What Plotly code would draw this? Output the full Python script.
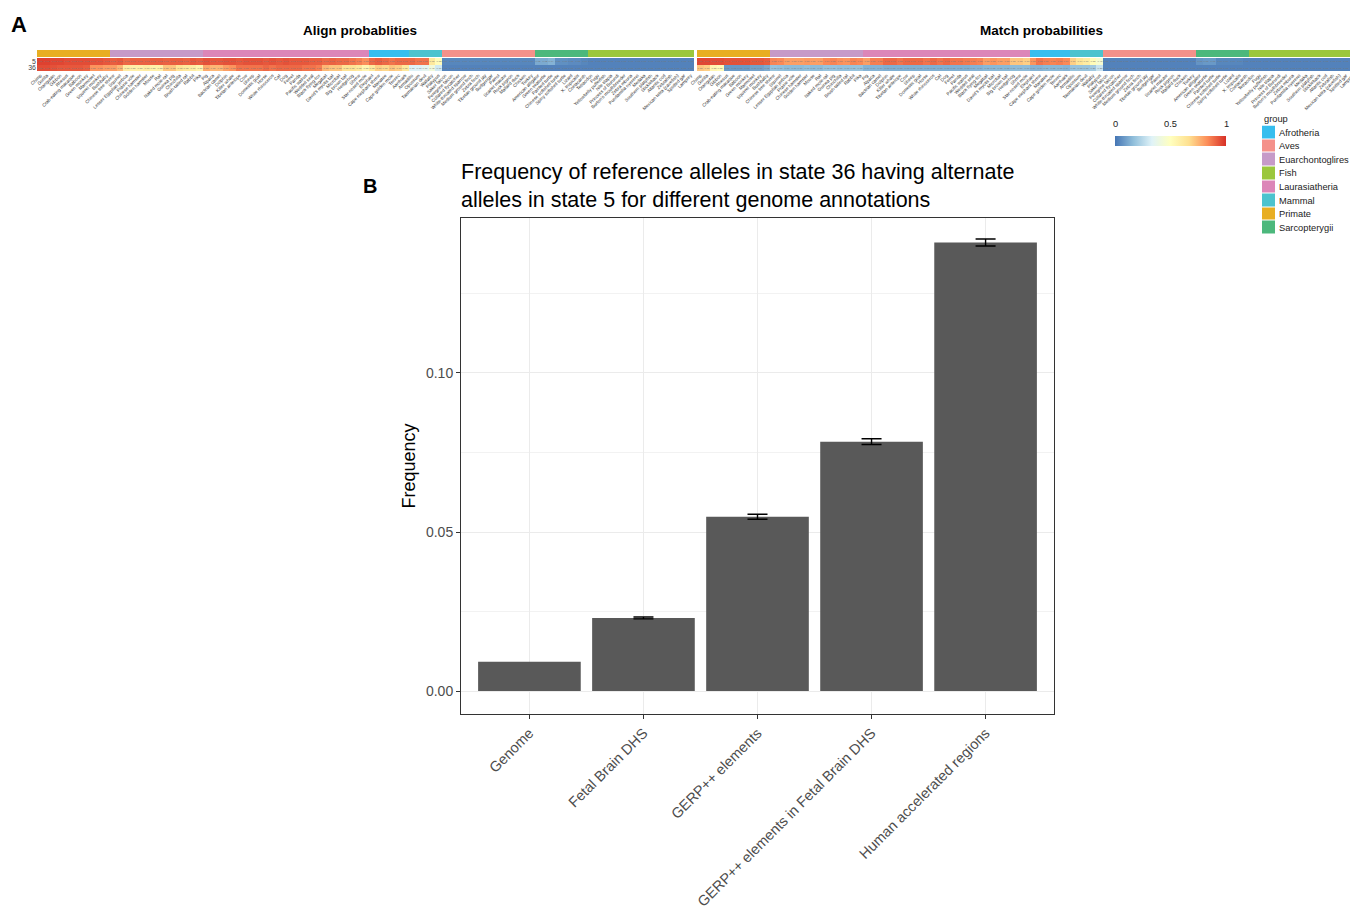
import math
import plotly.graph_objects as go

# ---------------- data ----------------
species = [
    "Chimp", "Gorilla", "Orangutan", "Gibbon", "Rhesus", "Crab-eating macaque", "Baboon",
    "Green monkey", "Marmoset", "Squirrel monkey", "Bushbaby",
    "Chinese tree shrew", "Squirrel", "Lesser Egyptian jerboa", "Prairie vole", "Chinese hamster",
    "Golden hamster", "Mouse", "Rat", "Naked mole-rat", "Guinea pig", "Chinchilla",
    "Brush-tailed rat", "Rabbit", "Pika",
    "Pig", "Alpaca", "Bactrian camel", "Dolphin", "Killer whale", "Tibetan antelope", "Cow",
    "Sheep", "Domestic goat", "Horse", "White rhinoceros", "Cat", "Dog", "Ferret", "Panda",
    "Pacific walrus", "Weddell seal", "Black flying-fox", "Megabat", "David's myotis bat",
    "Microbat", "Big brown bat", "Hedgehog", "Shrew", "Star-nosed mole",
    "Elephant", "Cape elephant shrew", "Manatee", "Cape golden mole", "Tenrec", "Aardvark",
    "Armadillo", "Opossum", "Tasmanian devil", "Wallaby", "Platypus",
    "Saker falcon", "Peregrine falcon", "Collared flycatcher", "White-throated sparrow",
    "Medium ground finch", "Zebra finch", "Tibetan ground jay", "Budgerigar", "Parrot",
    "Scarlet macaw", "Rock pigeon", "Mallard duck", "Chicken", "Turkey",
    "American alligator", "Green seaturtle", "Painted turtle", "Chinese softshell turtle",
    "Spiny softshell turtle", "Lizard", "X. tropicalis", "Coelacanth",
    "Tetraodon", "Fugu", "Yellowbelly pufferfish", "Nile tilapia", "Princess of Burundi",
    "Burton's mouthbreeder", "Zebra mbuna", "Pundamilia nyererei", "Medaka",
    "Southern platyfish", "Stickleback", "Atlantic cod", "Zebrafish", "Mexican tetra (cavefish)",
    "Spotted gar", "Lamprey",
]
species_group = (["Primate"] * 11 + ["Euarchontoglires"] * 14 + ["Laurasiatheria"] * 25 +
                 ["Afrotheria"] * 6 + ["Mammal"] * 5 + ["Aves"] * 14 +
                 ["Sarcopterygii"] * 8 + ["Fish"] * 16)

groups = ["Afrotheria", "Aves", "Euarchontoglires", "Fish", "Laurasiatheria",
          "Mammal", "Primate", "Sarcopterygii"]
group_colors = ["#37BEEE", "#F4918A", "#C69AC8", "#9BC73C", "#DC86B8",
                "#4CC3CE", "#E8AE22", "#4CB87C"]

row_labels = ["36", "5"]

align_5 = [0.97, 0.97, 0.96, 0.96, 0.95, 0.95, 0.95, 0.95, 0.94, 0.94, 0.93,
           0.92, 0.93, 0.90, 0.91, 0.91, 0.91, 0.92, 0.92, 0.91, 0.92, 0.92, 0.91, 0.93, 0.92,
           0.94, 0.93, 0.93, 0.94, 0.94, 0.93, 0.94, 0.94, 0.94, 0.93, 0.94, 0.93, 0.94, 0.93,
           0.93, 0.93, 0.92, 0.92, 0.90, 0.91, 0.90, 0.90, 0.88, 0.86, 0.83,
           0.90, 0.92, 0.90, 0.88, 0.90, 0.90,
           0.90, 0.88, 0.88, 0.62, 0.52,
           0.04, 0.04, 0.04, 0.04, 0.04, 0.04, 0.04, 0.04, 0.04, 0.04, 0.04, 0.04, 0.04, 0.04,
           0.12, 0.12, 0.14, 0.06, 0.06, 0.05, 0.05, 0.04,
           0.03, 0.03, 0.03, 0.03, 0.03, 0.03, 0.03, 0.03, 0.03, 0.03, 0.03, 0.03, 0.03, 0.03,
           0.03, 0.03]
align_36 = [0.95, 0.95, 0.94, 0.93, 0.93, 0.93, 0.93, 0.92, 0.82, 0.82, 0.80,
            0.80, 0.75, 0.60, 0.58, 0.58, 0.60, 0.58, 0.58, 0.72, 0.72, 0.65, 0.62, 0.60, 0.56,
            0.78, 0.75, 0.75, 0.80, 0.82, 0.88, 0.88, 0.88, 0.88, 0.90, 0.88, 0.90, 0.90, 0.90,
            0.90, 0.88, 0.88, 0.86, 0.75, 0.72, 0.72, 0.65, 0.65, 0.62, 0.55,
            0.62, 0.70, 0.68, 0.72, 0.70, 0.62,
            0.33, 0.33, 0.36, 0.42, 0.30,
            0.03, 0.03, 0.03, 0.03, 0.03, 0.03, 0.03, 0.03, 0.03, 0.03, 0.03, 0.03, 0.03, 0.03,
            0.03, 0.03, 0.03, 0.03, 0.03, 0.03, 0.03, 0.03,
            0.03, 0.03, 0.03, 0.03, 0.03, 0.03, 0.03, 0.03, 0.03, 0.03, 0.03, 0.03, 0.03, 0.03,
            0.03, 0.03]
match_5 = [0.96, 0.96, 0.95, 0.95, 0.94, 0.94, 0.94, 0.94, 0.93, 0.93, 0.92,
           0.85, 0.84, 0.80, 0.80, 0.80, 0.81, 0.80, 0.80, 0.84, 0.85, 0.83, 0.82, 0.85, 0.84,
           0.80, 0.86, 0.86, 0.90, 0.90, 0.88, 0.90, 0.90, 0.90, 0.88, 0.90, 0.88, 0.90, 0.88,
           0.88, 0.87, 0.86, 0.85, 0.80, 0.82, 0.80, 0.80, 0.72, 0.72, 0.70,
           0.82, 0.88, 0.86, 0.85, 0.86, 0.84,
           0.70, 0.64, 0.60, 0.52, 0.45,
           0.03, 0.03, 0.03, 0.03, 0.03, 0.03, 0.03, 0.03, 0.03, 0.03, 0.03, 0.03, 0.03, 0.03,
           0.07, 0.08, 0.08, 0.04, 0.04, 0.04, 0.04, 0.03,
           0.03, 0.03, 0.03, 0.03, 0.03, 0.03, 0.03, 0.03, 0.03, 0.03, 0.03, 0.03, 0.03, 0.03,
           0.03, 0.03]
match_36 = [0.72, 0.70, 0.55, 0.52, 0.08, 0.08, 0.08, 0.08, 0.10, 0.10, 0.12,
            0.18, 0.17, 0.16, 0.16, 0.16, 0.17, 0.16, 0.16, 0.18, 0.18, 0.17, 0.17, 0.18, 0.18,
            0.14, 0.14, 0.14, 0.13, 0.13, 0.13, 0.13, 0.13, 0.13, 0.13, 0.13, 0.13, 0.13, 0.13,
            0.13, 0.13, 0.14, 0.14, 0.15, 0.15, 0.15, 0.15, 0.16, 0.16, 0.16,
            0.14, 0.14, 0.15, 0.15, 0.15, 0.14,
            0.18, 0.18, 0.18, 0.20, 0.28,
            0.03, 0.03, 0.03, 0.03, 0.03, 0.03, 0.03, 0.03, 0.03, 0.03, 0.03, 0.03, 0.03, 0.03,
            0.03, 0.03, 0.03, 0.03, 0.03, 0.03, 0.03, 0.03,
            0.03, 0.03, 0.03, 0.03, 0.03, 0.03, 0.03, 0.03, 0.03, 0.03, 0.03, 0.03, 0.03, 0.03,
            0.03, 0.03]

annotations_b = ["Genome", "Fetal Brain DHS", "GERP++ elements",
                 "GERP++ elements in Fetal Brain DHS", "Human accelerated regions"]
frequency = [0.0092, 0.0230, 0.0548, 0.0784, 0.1410]
freq_err = [float("nan"), 0.0003, 0.0008, 0.0009, 0.0011]

colorbar_ticks = [0, 0.5, 1]

# ---------------- helpers ----------------
W, H = 1358, 906
OFF = 8  # the page body adds an 8 px margin
FONT = "Liberation Sans, Arial, sans-serif"


def px(x):
    return (x - OFF) / W


def py(y):
    return 1 - (y - OFF) / H


heat_scale = [[0.0, "#4575B4"], [1 / 6, "#91BFDB"], [2 / 6, "#E0F3F8"], [3 / 6, "#FFFFBF"],
              [4 / 6, "#FEE090"], [5 / 6, "#FC8D59"], [1.0, "#D73027"]]

n_g = len(groups)
group_scale = []
for i, c in enumerate(group_colors):
    group_scale.append([i / n_g, c])
    group_scale.append([(i + 1) / n_g, c])
group_idx = [groups.index(g) for g in species_group]

fig = go.Figure()

# Panel A heatmaps
for k, (r36, r5, xa, ya, gx, gy) in enumerate([
        (align_36, align_5, "x", "y", "x2", "y2"),
        (match_36, match_5, "x3", "y3", "x4", "y4")]):
    fig.add_trace(go.Heatmap(
        z=[r36, r5], x=species, y=row_labels, coloraxis="coloraxis",
        xaxis=xa, yaxis=ya, texttemplate="%{z:.2f}",
        textfont=dict(size=2.5, color="#777777"), hoverinfo="x+y+z"))
    fig.add_trace(go.Heatmap(
        z=[group_idx], x=species, y=["group"], colorscale=group_scale,
        zmin=-0.5, zmax=n_g - 0.5, showscale=False, xaxis=gx, yaxis=gy,
        customdata=[species_group], hovertemplate="%{x}: %{customdata}<extra></extra>"))

# group legend as a small heatmap
fig.add_trace(go.Heatmap(
    z=[[i] for i in range(n_g)], x=["g"], y=groups, colorscale=group_scale,
    zmin=-0.5, zmax=n_g - 0.5, showscale=False, xaxis="x5", yaxis="y5", ygap=1,
    hoverinfo="y"))

# Panel B bars (a missing error value is passed as "NaN" so no bar is drawn)
err_array = ["NaN" if math.isnan(e) else e for e in freq_err]
fig.add_trace(go.Bar(
    x=annotations_b, y=frequency, width=0.9, marker=dict(color="#595959", line=dict(width=0)),
    error_y=dict(type="data", array=err_array, color="black", thickness=1.4, width=10),
    xaxis="x6", yaxis="y6", showlegend=False))

hidden = dict(visible=False, showgrid=False, zeroline=False, automargin=False)
sp_axis = dict(tickangle=-45, ticks="", tickmode="array", tickvals=species,
               tickfont=dict(size=4.6, color="#333"), showgrid=False, zeroline=False,
               automargin=False)

fig.update_layout(
    width=W, height=H, margin=dict(l=0, r=0, t=0, b=0, autoexpand=False),
    paper_bgcolor="white", plot_bgcolor="white", showlegend=False,
    font=dict(family=FONT, color="black"),
    coloraxis=dict(
        colorscale=heat_scale, cmin=0, cmax=1,
        colorbar=dict(orientation="h", x=px(1115), xanchor="left", y=py(146), yanchor="bottom",
                      len=111, lenmode="pixels", thickness=10, outlinewidth=0,
                      xpad=0, ypad=0, showticklabels=False, ticks="")),
    xaxis=dict(domain=[px(37), px(694)], anchor="y", **sp_axis),
    yaxis=dict(domain=[py(71), py(58)], anchor="x", ticks="", tickmode="array",
               tickvals=row_labels, tickfont=dict(size=7, color="#444"),
               showgrid=False, zeroline=False, automargin=False),
    xaxis2=dict(domain=[px(37), px(694)], anchor="y2", **hidden),
    yaxis2=dict(domain=[py(57), py(50)], anchor="x2", **hidden),
    xaxis3=dict(domain=[px(697), px(1356)], anchor="y3", **sp_axis),
    yaxis3=dict(domain=[py(71), py(58)], anchor="x3", showticklabels=False, ticks="",
                showgrid=False, zeroline=False, automargin=False),
    xaxis4=dict(domain=[px(697), px(1356)], anchor="y4", **hidden),
    yaxis4=dict(domain=[py(57), py(50)], anchor="x4", **hidden),
    xaxis5=dict(domain=[px(1262), px(1275)], anchor="y5", **hidden),
    yaxis5=dict(domain=[py(234.5), py(125.5)], anchor="x5", side="right", autorange="reversed",
                ticks="", showgrid=False, zeroline=False, tickfont=dict(size=9.3, color="#222"),
                ticklabelstandoff=3, automargin=False),
    xaxis6=dict(domain=[px(461), px(1054)], anchor="y6", type="category", range=[-0.6, 4.6],
                tickangle=-45, tickfont=dict(size=14.5, color="#4d4d4d"), ticks="outside",
                ticklen=4, tickcolor="#333", showgrid=True, gridcolor="#ebebeb",
                showline=True, mirror=True, linecolor="#333", linewidth=1, zeroline=False,
                automargin=False),
    yaxis6=dict(domain=[py(714), py(218)], anchor="x6", range=[-0.0072, 0.1487],
                tickvals=[0, 0.05, 0.10], ticktext=["0.00", "0.05", "0.10"],
                tickfont=dict(size=14, color="#4d4d4d"), ticks="outside", ticklen=4,
                tickcolor="#333", showgrid=True, gridcolor="#ebebeb", gridwidth=1,
                minor=dict(tickvals=[0.025, 0.075, 0.125], showgrid=True, gridcolor="#f2f2f2",
                           gridwidth=0.6, ticks=""),
                showline=True, mirror=True, linecolor="#333", linewidth=1, zeroline=False,
                automargin=False,
                title=dict(text="Frequency", font=dict(size=18, color="black"), standoff=5)),
)

ann = [
    dict(text="<b>A</b>", x=px(9), y=py(10), xanchor="left", yanchor="top",
         font=dict(size=22)),
    dict(text="<b>B</b>", x=px(361), y=py(173), xanchor="left", yanchor="top",
         font=dict(size=20)),
    dict(text="<b>Align probablities</b>", x=px(360), y=py(30), xanchor="center",
         yanchor="middle", font=dict(size=13.5)),
    dict(text="<b>Match probabilities</b>", x=px(1041), y=py(30), xanchor="center",
         yanchor="middle", font=dict(size=13.5)),
    dict(text="Frequency of reference alleles in state 36 having alternate<br>"
              "alleles in state 5 for different genome annotations",
         x=px(459), y=py(158), xanchor="left", yanchor="top", align="left",
         font=dict(size=21.5)),
    dict(text="group", x=px(1262), y=py(119), xanchor="left", yanchor="middle",
         font=dict(size=9.3, color="#222")),
]
for v in colorbar_ticks:
    ann.append(dict(text=str(v), x=px(1115 + v * 111), y=py(124), xanchor="center",
                    yanchor="middle", font=dict(size=9.3, color="#222")))
for a in ann:
    a.update(xref="paper", yref="paper", showarrow=False)
fig.update_layout(annotations=ann)

fig.write_html("out.html")
